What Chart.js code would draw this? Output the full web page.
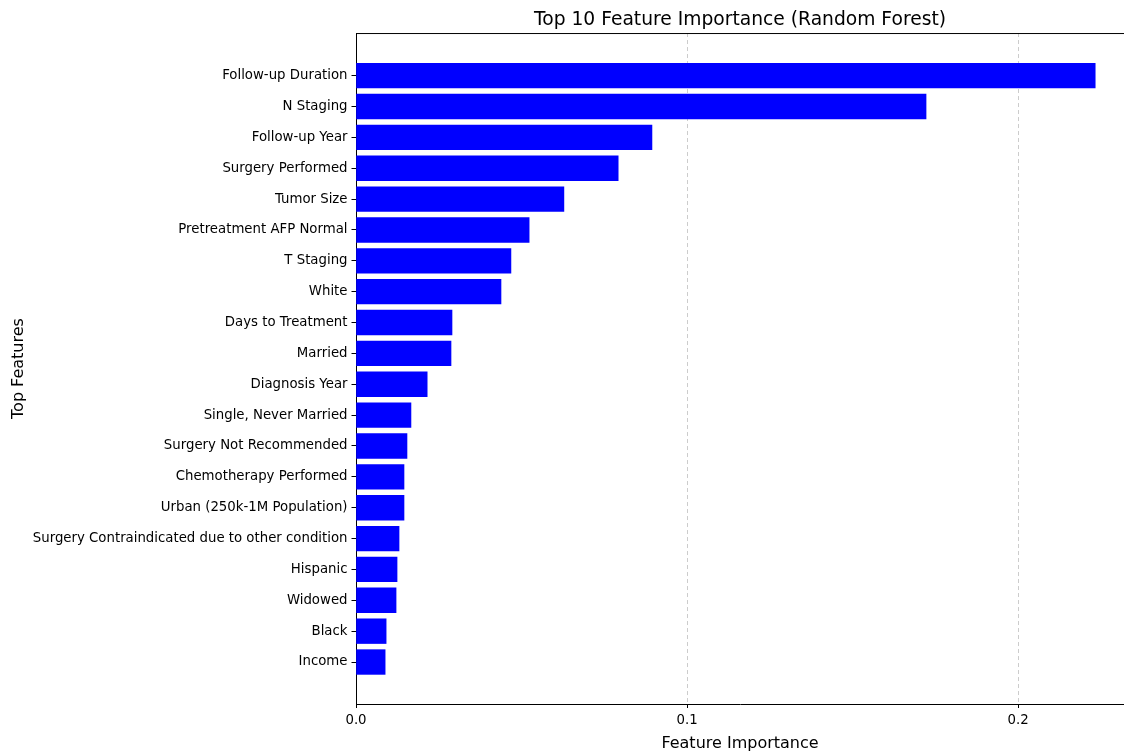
<!DOCTYPE html>
<html>
<head>
<meta charset="utf-8">
<script src="https://cdn.jsdelivr.net/npm/chart.js@4"></script>
<style>
  html, body { margin: 0; padding: 0; background: #fff; }
  #wrap { width: 1124px; height: 753px; }
</style>
</head>
<body>
<div id="wrap"><canvas id="myChart"></canvas></div>
<script>
// features listed top to bottom, as in the picture
var features = [
  "Follow-up Duration", "N Staging", "Follow-up Year", "Surgery Performed",
  "Tumor Size", "Pretreatment AFP Normal", "T Staging", "White",
  "Days to Treatment", "Married", "Diagnosis Year", "Single, Never Married",
  "Surgery Not Recommended", "Chemotherapy Performed", "Urban (250k-1M Population)",
  "Surgery Contraindicated due to other condition", "Hispanic", "Widowed",
  "Black", "Income"
];
var importance = [
  0.2233, 0.1722, 0.0894, 0.0792,
  0.0628, 0.0523, 0.0468, 0.0438,
  0.0290, 0.0287, 0.0215, 0.0166,
  0.0154, 0.0145, 0.0145,
  0.0130, 0.0124, 0.0121,
  0.0091, 0.0088
];
var xTicks = [0, 0.1, 0.2];

Chart.defaults.font.family = "'DejaVu Sans', sans-serif";
Chart.defaults.color = '#000';

// matplotlib style top spine
var topSpine = {
  id: 'topSpine',
  afterDraw: function (chart) {
    var a = chart.chartArea, c = chart.ctx;
    c.save();
    c.strokeStyle = '#000';
    c.lineWidth = 1;
    c.beginPath();
    c.moveTo(a.left, a.top + 0.5);
    c.lineTo(a.right, a.top + 0.5);
    c.stroke();
    c.restore();
  }
};

var ctx = document.getElementById('myChart').getContext('2d');
var myChart = new Chart(ctx, {
  type: 'bar',
  data: {
    datasets: [{
      data: features.map(function (f, i) { return { x: importance[i], y: i }; }),
      backgroundColor: '#0000ff',
      borderWidth: 0,
      barThickness: 24.7
    }]
  },
  options: {
    indexAxis: 'y',
    responsive: true,
    maintainAspectRatio: false,
    animation: false,
    layout: { padding: { left: 0, right: 0, top: 0, bottom: 0 } },
    plugins: {
      legend: { display: false },
      tooltip: { enabled: false },
      title: {
        display: true,
        fullSize: false,
        text: 'Top 10 Feature Importance (Random Forest)',
        font: { size: 18.7, weight: 'normal' },
        color: '#000',
        padding: { top: 9, bottom: 1.6 }
      }
    },
    scales: {
      x: {
        type: 'linear',
        min: 0,
        max: 0.232,
        afterBuildTicks: function (scale) {
          scale.ticks = xTicks.map(function (v) { return { value: v }; });
        },
        afterFit: function (scale) { scale.height = 49; },
        ticks: {
          font: { size: 13.3 },
          color: '#000',
          padding: 5,
          callback: function (v) { return v.toFixed(1); }
        },
        grid: {
          color: '#cccccc',
          lineWidth: 1,
          tickColor: '#000',
          tickLength: 4,
          tickBorderDash: [],
          drawTicks: true
        },
        border: { display: true, color: '#000', width: 1, dash: [4, 3] },
        title: {
          display: true,
          text: 'Feature Importance',
          font: { size: 16 },
          color: '#000',
          padding: { top: 5, bottom: 0 }
        }
      },
      y: {
        type: 'linear',
        reverse: true,
        offset: false,
        min: -1.38,
        max: 20.36,
        afterBuildTicks: function (scale) {
          scale.ticks = features.map(function (f, i) { return { value: i }; });
        },
        afterFit: function (scale) { scale.width = 356; },
        ticks: {
          autoSkip: false,
          font: { size: 13.3 },
          color: '#000',
          padding: 4,
          callback: function (v) { return features[v]; }
        },
        grid: {
          offset: false,
          drawOnChartArea: false,
          drawTicks: true,
          tickLength: 4.5,
          tickColor: '#000'
        },
        border: { display: true, color: '#000', width: 1 },
        title: {
          display: true,
          text: 'Top Features',
          font: { size: 16 },
          color: '#000',
          padding: { top: 9, bottom: 0 }
        }
      }
    }
  },
  plugins: [topSpine]
});
</script>
</body>
</html>
